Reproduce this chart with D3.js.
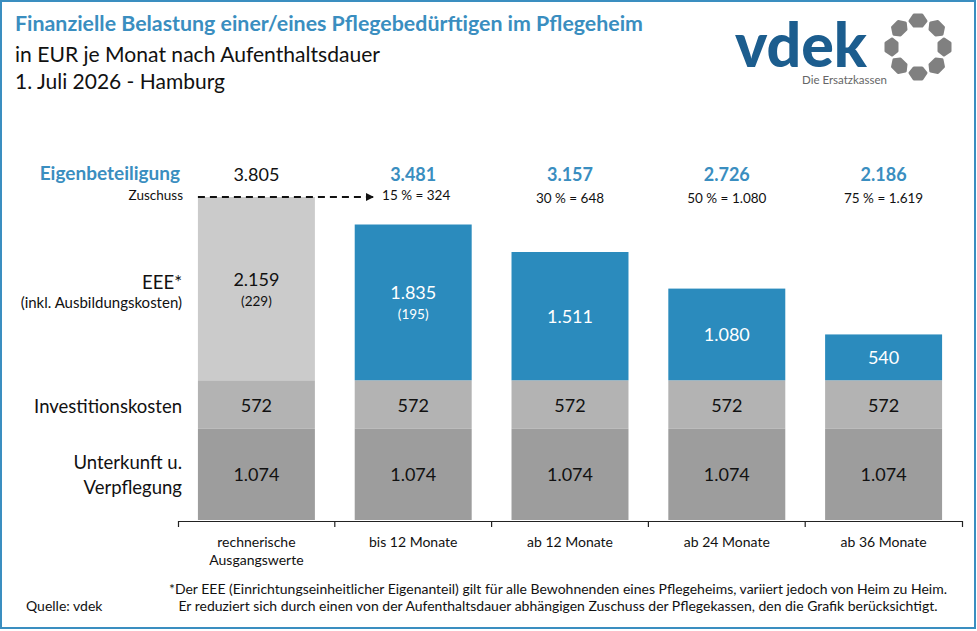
<!DOCTYPE html>
<html>
<head>
<meta charset="utf-8">
<script src="https://cdn.jsdelivr.net/npm/d3@7"></script>
<style>
    body { margin: 0; background: #fff; }
    svg { display: block; font-family: Lato, "Noto Sans", sans-serif; }
</style>
</head>
<body>
<svg id="chart" width="977" height="631"></svg>
<script>
// Daten (EUR je Monat)
const categories = ["rechnerische\nAusgangswerte", "bis 12 Monate", "ab 12 Monate", "ab 24 Monate", "ab 36 Monate"];
const unterkunft = [1074, 1074, 1074, 1074, 1074];
const invest = [572, 572, 572, 572, 572];
const eee = [2159, 1835, 1511, 1080, 540];
const ausbildung = [229, 195, null, null, null];
const eigenanteil = [3805, 3481, 3157, 2726, 2186];
const zuschussPct = [null, 15, 30, 50, 75];
const zuschuss = [null, 324, 648, 1080, 1619];

const BLUE = '#2b8bbd';
const TITLE_BLUE = '#3a8ec0';

const svg = d3.select('#chart');
const de = d3.formatLocale({decimal: ',', thousands: '.', grouping: [3], currency: ['', ' €']});
const fmt = de.format(',d');

// Rahmen
svg.append('rect')
    .attr('x', 1).attr('y', 1)
    .attr('width', 974).attr('height', 627)
    .attr('fill', 'none')
    .attr('stroke', TITLE_BLUE)
    .attr('stroke-width', 2);

// Titel
const titles = [
    {text: 'Finanzielle Belastung einer/eines Pflegebedürftigen im Pflegeheim', y: 31, bold: true, w: 628},
    {text: 'in EUR je Monat nach Aufenthaltsdauer', y: 62, bold: false, w: 365},
    {text: '1. Juli 2026 - Hamburg', y: 89, bold: false, w: 210}
];
svg.selectAll('text.title')
    .data(titles)
    .enter()
    .append('text')
    .attr('class', 'title')
    .attr('x', 15)
    .attr('y', d => d.y)
    .attr('font-size', 21)
    .attr('font-weight', d => d.bold ? 700 : 400)
    .attr('fill', d => d.bold ? TITLE_BLUE : '#111')
    .attr('textLength', d => d.w)
    .attr('lengthAdjust', 'spacingAndGlyphs')
    .text(d => d.text);

// Logo
const logo = svg.append('g');
logo.append('text')
    .attr('x', 735).attr('y', 67)
    .attr('font-size', 60)
    .attr('font-weight', 900)
    .attr('fill', '#1c5d8e')
    .attr('textLength', 132)
    .attr('lengthAdjust', 'spacingAndGlyphs')
    .text('vdek');
logo.append('text')
    .attr('x', 887).attr('y', 84)
    .attr('text-anchor', 'end')
    .attr('font-size', 11.5)
    .attr('fill', '#666')
    .text('Die Ersatzkassen');
const ring = logo.append('g').attr('transform', 'translate(918,47)');
d3.range(8).forEach(i => {
    ring.append('polygon')
        .attr('points', '-8,-26 -4,-32 4,-32 8,-26 4,-21 -4,-21')
        .attr('transform', `rotate(${i * 45})`)
        .attr('fill', '#808080')
        .attr('stroke', '#808080')
        .attr('stroke-width', 3)
        .attr('stroke-linejoin', 'round');
});

// Skalen
const x = d3.scaleBand()
    .domain(categories)
    .range([178, 962])
    .paddingInner(0.254)
    .paddingOuter(0.127);

const y = d3.scaleLinear()
    .domain([0, eigenanteil[0]])
    .range([520, 197]);

const table = categories.map((c, i) => ({
    cat: c, i: i,
    unterkunft: unterkunft[i],
    invest: invest[i],
    eee: eee[i]
}));
const keys = ['unterkunft', 'invest', 'eee'];
const series = d3.stack().keys(keys)(table);

const fillFor = (key, i) => {
    if (key === 'unterkunft') return '#9d9d9d';
    if (key === 'invest') return '#b3b3b3';
    return i === 0 ? '#cbcbcb' : BLUE;
};

const layers = svg.append('g')
    .selectAll('g')
    .data(series)
    .enter()
    .append('g');

layers.selectAll('rect')
    .data(s => s.map(d => ({key: s.key, d: d})))
    .enter()
    .append('rect')
    .attr('x', p => x(p.d.data.cat))
    .attr('width', x.bandwidth())
    .attr('y', p => y(p.d[1]))
    .attr('height', p => y(p.d[0]) - y(p.d[1]))
    .attr('fill', p => fillFor(p.key, p.d.data.i));

// Werte in den Segmenten
layers.each(function (s) {
    const g = d3.select(this);
    s.forEach(d => {
        const cx = x(d.data.cat) + x.bandwidth() / 2;
        const cy = (y(d[0]) + y(d[1])) / 2;
        const i = d.data.i;
        const white = s.key === 'eee' && i > 0;
        const sub = s.key === 'eee' ? ausbildung[i] : null;
        g.append('text')
            .attr('x', cx)
            .attr('y', sub != null ? cy - 3 : cy + 7)
            .attr('text-anchor', 'middle')
            .attr('font-size', 18)
            .attr('fill', white ? '#fff' : '#111')
            .text(fmt(d[1] - d[0]));
        if (sub != null) {
            g.append('text')
                .attr('x', cx)
                .attr('y', cy + 17)
                .attr('text-anchor', 'middle')
                .attr('font-size', 13.5)
                .attr('fill', white ? '#fff' : '#111')
                .text(`(${fmt(sub)})`);
        }
    });
});

// Eigenbeteiligung und Zuschuss
const topRow = svg.append('g');
categories.forEach((c, i) => {
    const cx = x(c) + x.bandwidth() / 2;
    topRow.append('text')
        .attr('x', cx)
        .attr('y', 181)
        .attr('text-anchor', 'middle')
        .attr('font-size', 18)
        .attr('font-weight', i === 0 ? 400 : 700)
        .attr('fill', i === 0 ? '#111' : TITLE_BLUE)
        .text(fmt(eigenanteil[i]));
    if (zuschussPct[i] != null) {
        topRow.append('text')
            .attr('x', i === 1 ? cx + 3 : cx)
            .attr('y', i === 1 ? 200 : 203)
            .attr('text-anchor', 'middle')
            .attr('font-size', 13.5)
            .attr('fill', '#111')
            .text(`${zuschussPct[i]} % = ${fmt(zuschuss[i])}`);
    }
});

// gestrichelter Pfeil vom Ausgangswert zum ersten Zuschuss
svg.append('defs').append('marker')
    .attr('id', 'arrow')
    .attr('viewBox', '0 0 10 10')
    .attr('refX', 9).attr('refY', 5)
    .attr('markerWidth', 4).attr('markerHeight', 4)
    .attr('orient', 'auto')
    .append('path')
    .attr('d', 'M0,0L10,5L0,10Z')
    .attr('fill', '#111');

const arrowY = y(eigenanteil[0]);
svg.append('line')
    .attr('x1', x(categories[0]))
    .attr('x2', x(categories[1]) + x.bandwidth() / 2 - 40)
    .attr('y1', arrowY).attr('y2', arrowY)
    .attr('stroke', '#111')
    .attr('stroke-width', 2)
    .attr('stroke-dasharray', '7,5')
    .attr('marker-end', 'url(#arrow)');

// linke Beschriftungen
const left = svg.append('g').attr('text-anchor', 'end');
left.append('text').attr('x', 180).attr('y', 180)
    .attr('font-size', 19).attr('font-weight', 700).attr('fill', TITLE_BLUE)
    .text('Eigenbeteiligung');
left.append('text').attr('x', 183).attr('y', 200)
    .attr('font-size', 13.5).attr('fill', '#111')
    .text('Zuschuss');

const rowLines = [
    [{t: 'EEE*', y: 289, s: 18.5}, {t: '(inkl. Ausbildungskosten)', y: 308, s: 15}],
    [{t: 'Investitionskosten', y: 413, s: 18.5}],
    [{t: 'Unterkunft u.', y: 469, s: 18.5}, {t: 'Verpflegung', y: 494, s: 18.5}]
];
rowLines.forEach(lines => {
    lines.forEach(l => {
        left.append('text')
            .attr('x', 182).attr('y', l.y)
            .attr('font-size', l.s).attr('fill', '#111')
            .text(l.t);
    });
});

// x-Achse
const axis = svg.append('g')
    .attr('transform', 'translate(0,521)')
    .call(d3.axisBottom(x).tickSize(0).tickSizeOuter(6).tickFormat(''));
axis.select('.domain').attr('stroke', '#222').attr('stroke-width', 1.2);

const gap = x.step() * x.paddingInner() / 2;
axis.selectAll('line.sep')
    .data(categories.slice(1))
    .enter()
    .append('line')
    .attr('class', 'sep')
    .attr('x1', d => x(d) - gap).attr('x2', d => x(d) - gap)
    .attr('y1', 0).attr('y2', 6)
    .attr('stroke', '#222').attr('stroke-width', 1.2);

axis.selectAll('.tick').each(function (d) {
    const t = d3.select(this).append('text')
        .attr('fill', '#111')
        .attr('font-size', 14)
        .attr('font-family', 'Lato, "Noto Sans", sans-serif')
        .attr('text-anchor', 'middle')
        .attr('y', 26);
    d.split('\n').forEach((line, k) => {
        t.append('tspan').attr('x', 0).attr('dy', k === 0 ? 0 : 18).text(line);
    });
});

// Fußnote und Quelle
const notes = [
    {t: '*Der EEE (Einrichtungseinheitlicher Eigenanteil) gilt für alle Bewohnenden eines Pflegeheims, variiert jedoch von Heim zu Heim.', y: 594, w: 778},
    {t: 'Er reduziert sich durch einen von der Aufenthaltsdauer abhängigen Zuschuss der Pflegekassen, den die Grafik berücksichtigt.', y: 611, w: 759}
];
svg.selectAll('text.note')
    .data(notes)
    .enter()
    .append('text')
    .attr('class', 'note')
    .attr('x', 558)
    .attr('y', d => d.y)
    .attr('text-anchor', 'middle')
    .attr('font-size', 12.5)
    .attr('fill', '#111')
    .attr('textLength', d => d.w)
    .attr('lengthAdjust', 'spacingAndGlyphs')
    .text(d => d.t);

svg.append('text')
    .attr('x', 26).attr('y', 611)
    .attr('font-size', 14)
    .attr('fill', '#111')
    .text('Quelle: vdek');
</script>
</body>
</html>
